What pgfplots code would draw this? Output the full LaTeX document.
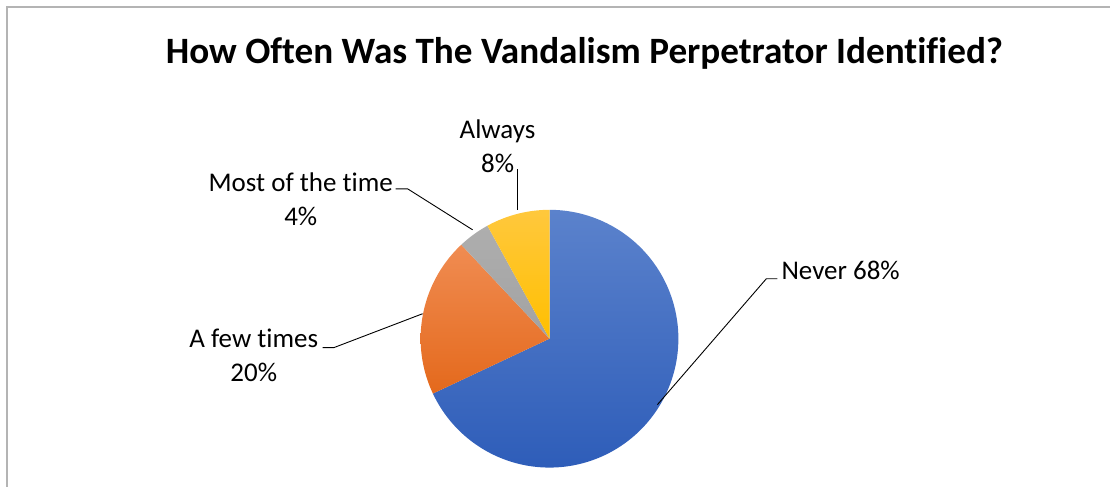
\documentclass[border=0pt]{standalone}
\usepackage{pgfplots}
\usepackage{pgfplotstable}
\pgfplotsset{compat=1.18}
\usepackage{fontspec}
\setmainfont[Ligatures=NoCommon]{Carlito}

\definecolor{blueT}{HTML}{5B82CC}
\definecolor{blueB}{HTML}{2E5DB9}
\definecolor{orangeT}{HTML}{F08C52}
\definecolor{orangeB}{HTML}{E4691C}
\definecolor{grayT}{HTML}{AEAEAE}
\definecolor{grayB}{HTML}{A2A2A2}
\definecolor{goldT}{HTML}{FFC83D}
\definecolor{goldB}{HTML}{FFBF00}
\definecolor{frame}{HTML}{B4B4B4}

\pgfplotstableread{
label value
Never 68
Few 20
Most 4
Always 8
}\piedata

\pgfplotstablegetelem{0}{value}\of\piedata \let\vA\pgfplotsretval
\pgfplotstablegetelem{1}{value}\of\piedata \let\vB\pgfplotsretval
\pgfplotstablegetelem{2}{value}\of\piedata \let\vC\pgfplotsretval
\pgfplotstablegetelem{3}{value}\of\piedata \let\vD\pgfplotsretval
\pgfmathsetmacro\aA{90}
\pgfmathsetmacro\aB{\aA-3.6*\vA}
\pgfmathsetmacro\aC{\aB-3.6*\vB}
\pgfmathsetmacro\aD{\aC-3.6*\vC}
\pgfmathsetmacro\aE{\aD-3.6*\vD}

\begin{document}
\begin{tikzpicture}
\begin{axis}[
  scale only axis, width=1111pt, height=487pt,
  xmin=0, xmax=1111, ymin=0, ymax=487, y dir=reverse,
  hide axis, clip=false,
]
\path (axis cs:0,0) rectangle (axis cs:1111,487);
% frame
\addplot[draw=frame, line width=2pt] coordinates {(7,487) (7,7) (1111,7)};
% slices
\addplot[draw=none, shade, top color=blueT, bottom color=blueB, domain=\aB:\aA, samples=150]
  ({550+129*cos(x)},{339-129*sin(x)}) -- (axis cs:550,339) -- cycle;
\addplot[draw=none, shade, top color=orangeT, bottom color=orangeB, domain=\aC:\aB, samples=80]
  ({550+129*cos(x)},{339-129*sin(x)}) -- (axis cs:550,339) -- cycle;
\addplot[draw=none, shade, top color=grayT, bottom color=grayB, domain=\aD:\aC, samples=30]
  ({550+129*cos(x)},{339-129*sin(x)}) -- (axis cs:550,339) -- cycle;
\addplot[draw=none, shade, top color=goldT, bottom color=goldB, domain=\aE:\aD, samples=40]
  ({550+129*cos(x)},{339-129*sin(x)}) -- (axis cs:550,339) -- cycle;
% leader lines
\addplot[black, line width=0.9pt] coordinates {(658,405) (767,279) (778,279)};
\addplot[black, line width=0.9pt] coordinates {(423,314) (334,348) (323,348)};
\addplot[black, line width=0.9pt] coordinates {(473,230) (408,189) (396,189)};
\addplot[black, line width=0.9pt] coordinates {(518,210) (518,169)};
% texts
\node[inner sep=0pt, font=\fontsize{37.2}{44}\selectfont\bfseries] at (axis cs:585,53) {How Often Was The Vandalism Perpetrator Identified?};
\node[inner sep=0pt, anchor=west, font=\fontsize{27}{34}\selectfont] at (axis cs:782,271) {Never 68\%};
\node[inner sep=0pt, align=center, font=\fontsize{27}{34}\selectfont] at (axis cs:254,356) {A few times\\20\%};
\node[inner sep=0pt, align=center, font=\fontsize{27}{34}\selectfont] at (axis cs:301,199) {Most of the time\\4\%};
\node[inner sep=0pt, align=center, font=\fontsize{27}{34}\selectfont] at (axis cs:498,146) {Always\\8\%};
\end{axis}
\end{tikzpicture}
\end{document}
